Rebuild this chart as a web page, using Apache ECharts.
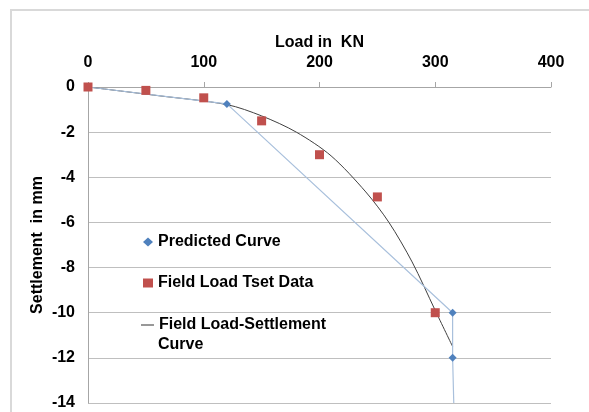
<!doctype html>
<html>
<head>
<meta charset="utf-8">
<title>Load Settlement</title>
<script src="https://cdn.jsdelivr.net/npm/echarts@6/dist/echarts.min.js"></script>
<style>
html, body { margin: 0; padding: 0; background: #fff; }
#main { width: 589px; height: 412px; }
</style>
</head>
<body>
<div id="main"></div>
<script>
// predicted curve
var predLoad = [0, 120, 315, 315, 316];
var predSettle = [0, -0.75, -10, -12, -14];
// field test points
var fieldLoad = [0, 50, 100, 150, 200, 250, 300];
var fieldSettle = [0, -0.15, -0.48, -1.5, -3, -4.87, -10];
// fitted field curve
var curveLoad = [0, 60, 120, 150, 180, 210, 240, 260, 280, 300, 315];
var curveSettle = [0, -0.38, -0.78, -1.28, -2.0, -3.05, -4.65, -6.0, -7.75, -9.9, -11.5];
var xTicks = [0, 100, 200, 300, 400];

function pairs(xs, ys) {
  var out = [];
  for (var i = 0; i < xs.length; i++) out.push([xs[i], ys[i]]);
  return out;
}

var predData = pairs(predLoad, predSettle);
predData[predData.length - 1] = { value: predData[predData.length - 1], symbolSize: 0 };

var font = 'Liberation Sans, Arial, sans-serif';
var txt = { fontFamily: font, fontWeight: 'bold', fontSize: 16, color: '#000' };
var myChart = echarts.init(document.getElementById('main'));

var option = {
  animation: false,
  graphic: [
    { type: 'rect', shape: { x: 11, y: 10, width: 600, height: 420 },
      style: { fill: 'none', stroke: '#d9d9d9', lineWidth: 2 } },
    { type: 'text', left: 158, top: 337,
      style: { text: 'Curve', font: 'bold 16px ' + font, fill: '#000' } }
  ],
  grid: { left: 88, right: 38, top: 87, bottom: 9 },
  legend: [
    { left: 138, top: 229, orient: 'vertical', itemWidth: 10, itemHeight: 9, textStyle: txt,
      data: [{ name: 'Predicted Curve', icon: 'diamond', itemStyle: { color: '#4f81bd' } }] },
    { left: 138, top: 270, orient: 'vertical', itemWidth: 10, itemHeight: 9, textStyle: txt,
      data: [{ name: 'Field Load Tset Data', icon: 'rect', itemStyle: { color: '#c0504d' } }] },
    { left: 136, top: 312, orient: 'vertical', itemWidth: 13, itemHeight: 10, textStyle: txt,
      formatter: function () { return 'Field Load-Settlement'; },
      data: [{ name: 'Field Load-Settlement Curve', icon: 'path://M0,9 L26,9 L26,11 L0,11 Z M0,0 L0,0.01 M0,20 L0,20.01',
        itemStyle: { color: '#333' } }] }
  ],
  xAxis: {
    type: 'value', position: 'top', min: 0, max: 400, interval: 100,
    name: 'Load in  KN', nameLocation: 'middle', nameGap: 36, nameMoveOverlap: false,
    nameTextStyle: txt,
    axisLine: { lineStyle: { color: '#a6a6a6' } },
    axisTick: { show: true, length: 5, lineStyle: { color: '#a6a6a6' } },
    axisLabel: { fontFamily: font, fontWeight: 'bold', fontSize: 16, color: '#000', margin: 16,
      formatter: function (v) { return xTicks.indexOf(v) >= 0 ? String(v) : ''; } },
    splitLine: { show: false }
  },
  yAxis: {
    type: 'value', min: -14, max: 0, interval: 2,
    name: 'Settlement  in mm', nameLocation: 'middle', nameGap: 42, nameRotate: 90,
    nameMoveOverlap: false,
    nameTextStyle: txt,
    axisLine: { show: true, lineStyle: { color: '#a6a6a6' } },
    axisTick: { show: false },
    axisLabel: { fontFamily: font, fontWeight: 'bold', fontSize: 16, color: '#000', margin: 13 },
    splitLine: { lineStyle: { color: '#bfbfbf' } }
  },
  series: [
    {
      name: 'Field Load-Settlement Curve', type: 'line', smooth: 0.3,
      showSymbol: false, z: 2,
      lineStyle: { color: '#404040', width: 1 },
      itemStyle: { color: '#404040' },
      data: pairs(curveLoad, curveSettle)
    },
    {
      name: 'Predicted Curve', type: 'line', symbol: 'diamond', symbolSize: 8, z: 3,
      lineStyle: { color: '#a9c0dc', width: 1.2 },
      itemStyle: { color: '#4f81bd' },
      data: predData
    },
    {
      name: 'Field Load Tset Data', type: 'scatter', symbol: 'rect', symbolSize: 9, z: 4,
      itemStyle: { color: '#c0504d', opacity: 1 },
      data: pairs(fieldLoad, fieldSettle)
    }
  ]
};

myChart.setOption(option);
</script>
</body>
</html>
